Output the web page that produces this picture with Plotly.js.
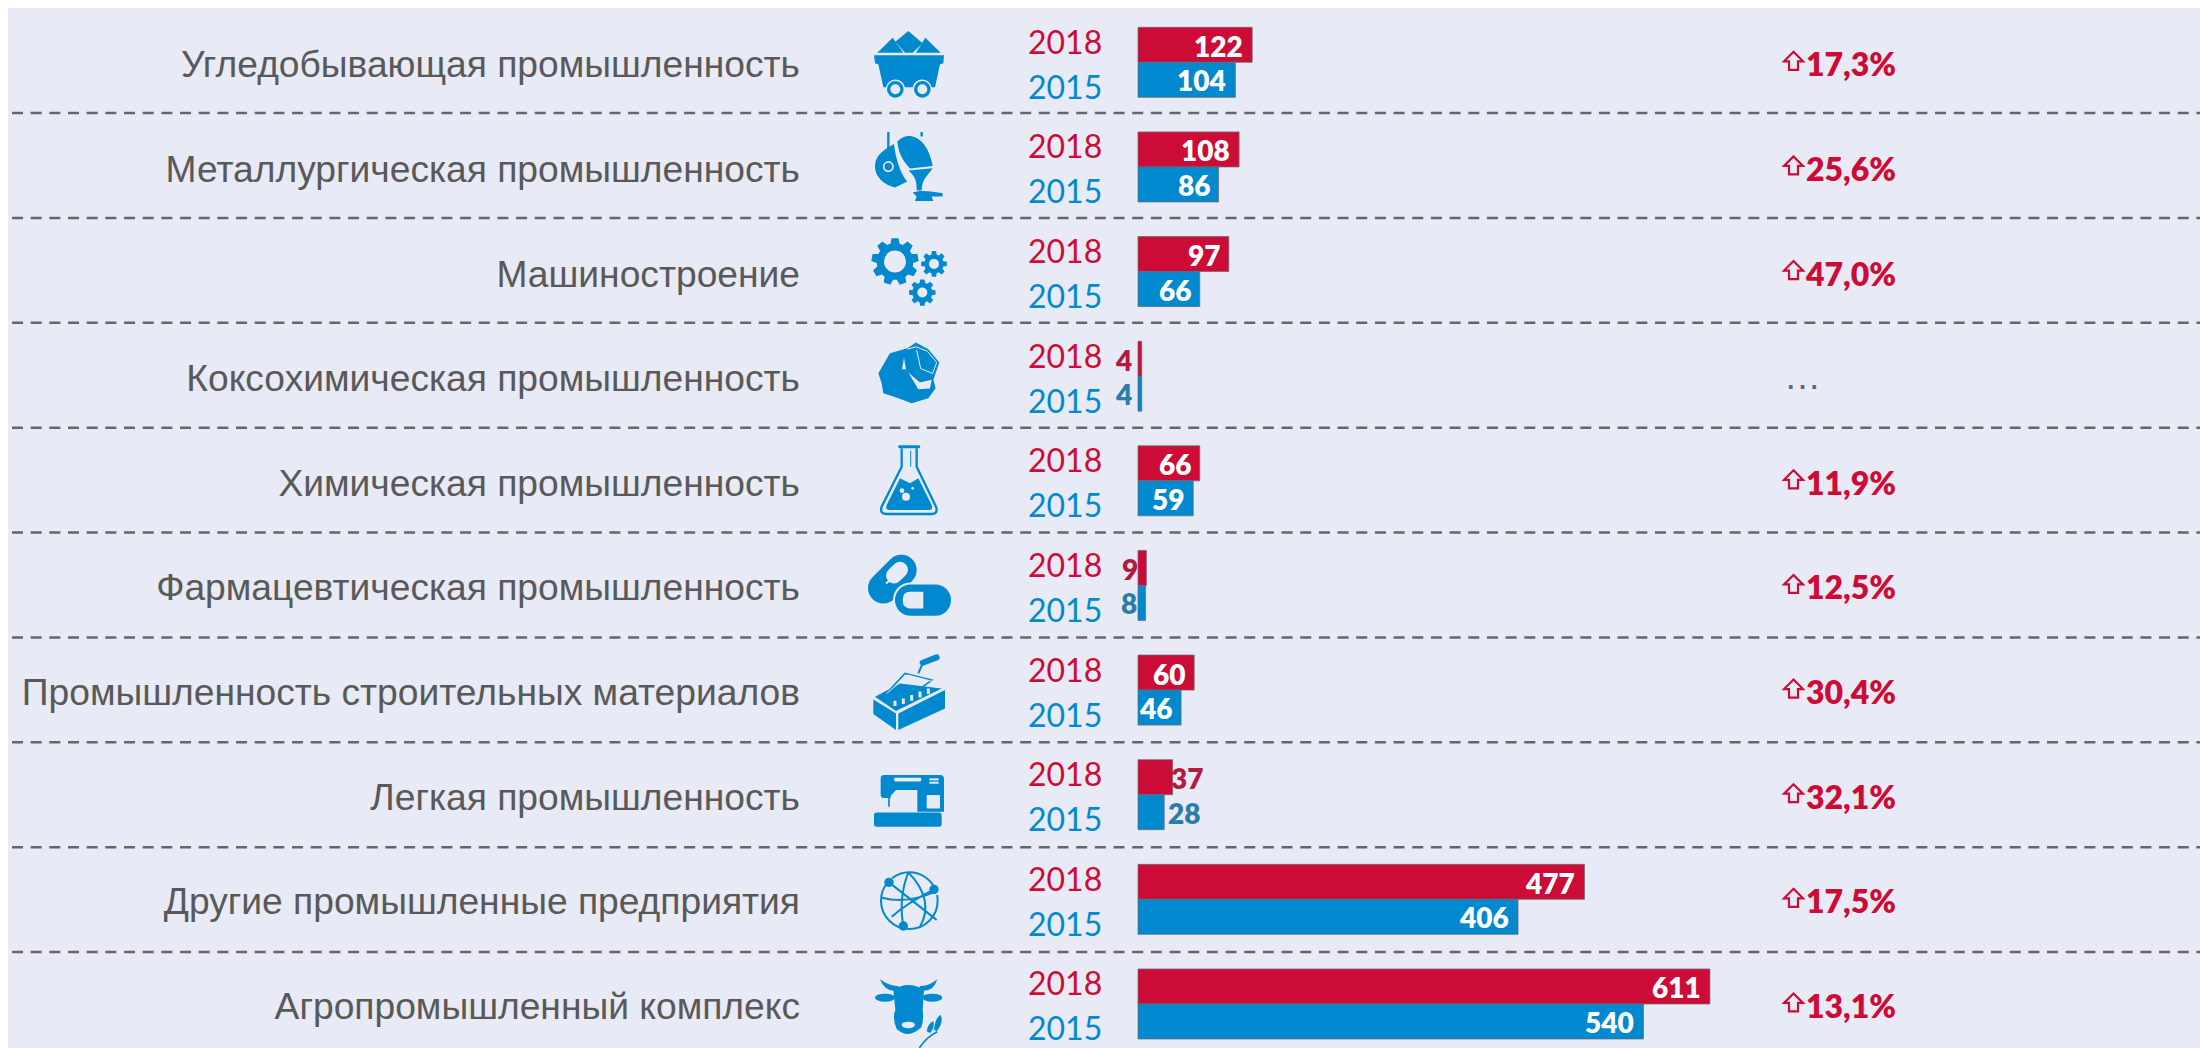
<!DOCTYPE html>
<html><head><meta charset="utf-8">
<script src="https://cdn.plot.ly/plotly-3.0.1.min.js"></script>
<style>html,body{margin:0;padding:0;background:#fff}</style></head>
<body><div id="chart" style="width:2200px;height:1048px"></div>
<script>
const categories = ["Угледобывающая промышленность","Металлургическая промышленность","Машиностроение","Коксохимическая промышленность","Химическая промышленность","Фармацевтическая промышленность","Промышленность строительных материалов","Легкая промышленность","Другие промышленные предприятия","Агропромышленный комплекс"];
const values2018 = [122,108,97,4,66,9,60,37,477,611];
const values2015 = [104,86,66,4,59,8,46,28,406,540];
const growth = ["17,3%","25,6%","47,0%","…","11,9%","12,5%","30,4%","32,1%","17,5%","13,1%"];
const year2018 = "2018", year2015 = "2015";

const RED="#CC0C36", BLUE="#0089CF", PANEL="#E8EAF5", GREY="#595959";
const W=2200,H=1048,L=8,T=8;
const ROW0=62.3, ROW=104.63, PXU=0.936, X0=1138;
const px=x=>(x-L)/(W-L), py=y=>1-(y-T)/(H-T);
const xd=x=>(x-X0)/PXU;

const gear=(cx,cy,R,r,hole,n)=>{let d="";for(let i=0;i<n;i++){const a=2*Math.PI*i/n,s=Math.PI/n;
 const pts=[[r,a-s*0.72],[R,a-s*0.42],[R,a+s*0.42],[r,a+s*0.72]];
 pts.forEach((p,j)=>{d+=((i===0&&j===0)?"M":"L")+(cx+p[0]*Math.sin(p[1])).toFixed(1)+" "+(cy-p[0]*Math.cos(p[1])).toFixed(1)+" ";});}
 d+="Z M"+(cx-hole)+" "+cy+" a"+hole+" "+hole+" 0 1 0 "+(2*hole)+" 0 a"+hole+" "+hole+" 0 1 0 "+(-2*hole)+" 0Z";return d;};

const icons=[
 {c:187,s:`<path d="M265 93L308 130L278 158H255L226 125Z"/><path d="M218 113L250 158H172Z"/><path d="M316 113L362 158H288Z"/>
  <path d="M162 166H372L370 190L360 193L345 262H335A29 29 0 0 0 278 262H255A29 29 0 0 0 198 262H190L175 193L165 190Z"/>
  <circle cx="226" cy="268" r="20" fill="none" stroke="${BLUE}" stroke-width="10"/><circle cx="307" cy="268" r="20" fill="none" stroke="${BLUE}" stroke-width="10"/>`},
 {c:501,s:`<path d="M222 432C185 452 165 470 165 500C165 530 190 555 225 563L262 545C240 520 226 470 222 432Z"/>
  <path d="M232 425C262 392 320 405 338 498L270 506C245 480 235 455 232 425Z"/>
  <path d="M266 512L338 505C320 530 305 540 305 572H290C290 540 285 530 266 512Z"/>
  <path d="M278 578C300 568 340 575 368 580V590H335L340 603H285L290 590Z"/>
  <path d="M205 396V490M305 396V410" stroke="${BLUE}" stroke-width="7"/><circle cx="205" cy="500" r="14" fill="${BLUE}" stroke="${PANEL}" stroke-width="5"/>`},
 {c:815,s:`<path fill-rule="evenodd" d="${gear(225,785,71,55,33,9)}"/><path fill-rule="evenodd" d="${gear(342,792,39,29,15,8)}"/><path fill-rule="evenodd" d="${gear(307,878,40,30,15,8)}"/>`},
 {c:1128,s:`<path d="M288 1027L325 1047L358 1087L340 1139L347 1164L325 1194L275 1209L235 1194L190 1179L185 1149L175 1119L210 1059L262 1044Z"/>
  <path d="M262 1047L288 1040L322 1053L350 1087L338 1120L302 1105L290 1050" fill="none" stroke="${PANEL}" stroke-width="3"/>
  <path d="M252 1072L258 1107L246 1107Z" fill="${PANEL}"/><path d="M265 1117L300 1147L335 1139L330 1165L295 1167Z" fill="${PANEL}"/>`},
 {c:482.5,s:`<path d="M245 385V440L185 560Q178 582 200 582H335Q355 582 348 560L290 440V385" fill="none" stroke="${BLUE}" stroke-width="7"/>
  <rect x="235" y="376" width="65" height="9" rx="3"/>
  <path d="M240 475L200 555Q195 570 208 570H328Q340 570 335 555L295 475L270 490Z"/><path d="M272 392V440" stroke="${BLUE}" stroke-width="3"/>
  <circle cx="258" cy="530" r="12" fill="${PANEL}"/><circle cx="246" cy="512" r="7" fill="${PANEL}"/><circle cx="278" cy="505" r="4" fill="${PANEL}"/>`},
 {c:1796,s:`<path d="M190 1804L244 1750" stroke="${BLUE}" stroke-width="92" stroke-linecap="round"/>
  <path d="M222 1766L240 1749" stroke="${PANEL}" stroke-width="48" stroke-linecap="round"/>
  <path d="M198 1790L242 1755" stroke="${PANEL}" stroke-width="6"/>
  <rect x="219" y="1787" width="180" height="106" rx="53" fill="${PANEL}"/><rect x="225" y="1793" width="168" height="94" rx="47"/>
  <path d="M310 1815V1865H270Q248 1865 248 1840Q248 1815 270 1815Z" fill="${PANEL}"/>`},
 {c:2020,s:`<path d="M160 2048L228 2090V2140L160 2092Z"/><path d="M235 2090L375 2020V2075L235 2140Z"/>
  <path d="M165 2040L240 2000L365 2015L228 2083Z"/><path d="M190 2040L255 1970L335 1990L295 2020" fill="none" stroke="${BLUE}" stroke-width="5"/>
  <path d="M295 1970L308 1940" stroke="${BLUE}" stroke-width="6"/><path d="M308 1938L350 1922" stroke="${BLUE}" stroke-width="18" stroke-linecap="round"/>
  <path d="M225 2052V2068M250 2045V2062M275 2035V2052M300 2024V2042M325 2015V2032" stroke="${PANEL}" stroke-width="9"/>
  <path d="M200 2030L265 1975L340 1995" fill="none" stroke="${PANEL}" stroke-width="3"/>`},
 {c:2382,s:`<rect x="162" y="2435" width="203" height="43" rx="8"/><path d="M192 2323H360Q372 2323 372 2335V2433H292V2368H228L212 2386V2392H192Q182 2392 182 2382V2333Q182 2323 192 2323Z"/>
  <path d="M207 2388V2418" stroke="${BLUE}" stroke-width="5"/><rect x="222" y="2331" width="82" height="11" rx="4" fill="${PANEL}"/>
  <rect x="328" y="2333" width="28" height="6" fill="${PANEL}"/><rect x="328" y="2343" width="28" height="6" fill="${PANEL}"/>
  <rect x="320" y="2383" width="40" height="40" rx="2" fill="${PANEL}"/><rect x="362" y="2390" width="10" height="26" rx="3"/>`},
 {c:2695,s:`<g fill="none" stroke="${BLUE}" stroke-width="6"><circle cx="268" cy="2699" r="85" stroke-dasharray="330 14 160 12"/><path d="M207 2644Q300 2717 350 2757M342 2665Q260 2707 215 2747M250 2775Q235 2690 265 2614M265 2614Q345 2697 300 2777M186 2690Q260 2710 346 2672"/></g>
  <circle cx="207" cy="2644" r="14"/><circle cx="342" cy="2665" r="14"/><circle cx="250" cy="2775" r="14"/>`},
 {c:3008,s:`<path d="M180 2934Q210 2956 235 2954L240 2968Q195 2976 180 2934Z"/><path d="M352 2934Q325 2956 300 2954L295 2968Q340 2976 352 2934Z"/>
  <ellipse cx="195" cy="2989" rx="30" ry="12"/><ellipse cx="337" cy="2989" rx="30" ry="12"/>
  <path d="M220 2966Q265 2936 312 2966L308 3026Q312 3056 304 3078Q265 3115 230 3083Q216 3051 226 3026Z"/><ellipse cx="265" cy="3071" rx="20" ry="10" fill="${PANEL}"/>
  <path d="M298 3140Q320 3106 352 3091" fill="none" stroke="${BLUE}" stroke-width="5"/><path d="M320 3090Q325 3065 340 3060Q345 3080 330 3095ZM342 3085Q345 3050 362 3040Q372 3065 350 3090Z"/>`}
];
const images=icons.map((ic,i)=>{
 const yc=ROW0+ROW*i;
 const svg=`<svg xmlns="http://www.w3.org/2000/svg" width="300" height="300" viewBox="0 0 300 300"><g fill="${BLUE}" transform="translate(-117,${-(ic.c-150)})">${ic.s}</g></svg>`;
 return {source:"data:image/svg+xml;charset=utf-8,"+encodeURIComponent(svg),xref:"paper",yref:"paper",x:px(909),y:py(yc),sizex:100/(W-L),sizey:100/(H-T),xanchor:"center",yanchor:"middle",sizing:"contain",layer:"above"};
});
const arrowSvg=`<svg xmlns="http://www.w3.org/2000/svg" width="24" height="24" viewBox="0 0 24 24"><path d="M12 2.5L21.5 12H16.5V20.5H7.5V12H2.5Z" fill="none" stroke="${RED}" stroke-width="2.2"/></svg>`;
growth.forEach((g,i)=>{
 if(g==="…")return;
 images.push({source:"data:image/svg+xml;charset=utf-8,"+encodeURIComponent(arrowSvg),xref:"paper",yref:"paper",x:px(1793.5),y:py(ROW0+ROW*i-1),sizex:24/(W-L),sizey:24/(H-T),xanchor:"center",yanchor:"middle",sizing:"contain",layer:"above"});
});

const barLine={color:"rgba(105,105,115,0.75)",width:1};
const traces=[
 {type:"bar",orientation:"h",name:year2018,y:categories,x:values2018,marker:{color:RED,line:barLine},hoverinfo:"x+y+name"},
 {type:"bar",orientation:"h",name:year2015,y:categories,x:values2015,marker:{color:BLUE,line:barLine},hoverinfo:"x+y+name"}
];

const ann=[];
const yrFont=c=>({family:"Lato",size:32,color:c});
categories.forEach((c,i)=>{
 ann.push({xref:"x",yref:"y",x:xd(1104),y:i,yshift:21,xanchor:"right",yanchor:"middle",showarrow:false,text:year2018,font:yrFont(RED)});
 ann.push({xref:"x",yref:"y",x:xd(1104),y:i,yshift:-24,xanchor:"right",yanchor:"middle",showarrow:false,text:year2015,font:yrFont(BLUE)});
 [[values2018[i],16.5,"#B31A3F",true],[values2015[i],-18,"#2B7DA9",false]].forEach(([v,ys,dark,is18])=>{
  let xs=-7,anch="right",col="#FFFFFF";
  if(v<=9){xs=v>=8?-6:-8;col=dark;}
  else if(v<=37){xs=is18?-4:2;anch="left";col=dark;}
  ann.push({xref:"x",yref:"y",x:v,y:i,yshift:ys,xshift:xs,xanchor:anch,yanchor:"middle",showarrow:false,text:String(v),font:{family:"Lato",size:28,weight:800,color:col}});
 });
 const g=growth[i];
 if(g==="…"){
  ann.push({xref:"paper",yref:"y",x:px(1782),y:i,xanchor:"left",yanchor:"middle",showarrow:false,text:g,font:{family:"Liberation Sans",size:37,color:"#666666"}});
 } else {
  ann.push({xref:"paper",yref:"y",x:px(1898),y:i,yshift:-1.5,xanchor:"right",yanchor:"middle",showarrow:false,text:g,font:{family:"Lato",size:32,weight:800,color:RED}});
 }
});

const shapes=[];
for(let k=0;k<9;k++){
 const y=113+104.88*k;
 shapes.push({type:"line",xref:"paper",yref:"paper",x0:px(12),x1:1,y0:py(y),y1:py(y),layer:"above",line:{color:"#666666",width:2.5,dash:"11px,7.67px"}});
}

const layout={
 width:W,height:H,margin:{l:L,r:0,t:T,b:0,pad:0},paper_bgcolor:"#FFFFFF",plot_bgcolor:PANEL,showlegend:false,barmode:"group",bargap:0.331,bargroupgap:0,
 xaxis:{range:[xd(L),xd(W)],visible:false,fixedrange:true,zeroline:false,showgrid:false},
 yaxis:{type:"category",categoryorder:"array",categoryarray:categories,range:[(H-ROW0)/ROW,(T-ROW0)/ROW],anchor:"free",position:px(800),side:"left",showline:false,showgrid:false,zeroline:false,ticks:"",ticklabelstandoff:0,ticklabelshift:-2,automargin:false,tickfont:{family:"Liberation Sans",size:37.2,color:GREY},fixedrange:true},
 annotations:ann,shapes:shapes,images:images
};
Plotly.newPlot("chart",traces,layout,{displayModeBar:false,responsive:false});
</script></body></html>
